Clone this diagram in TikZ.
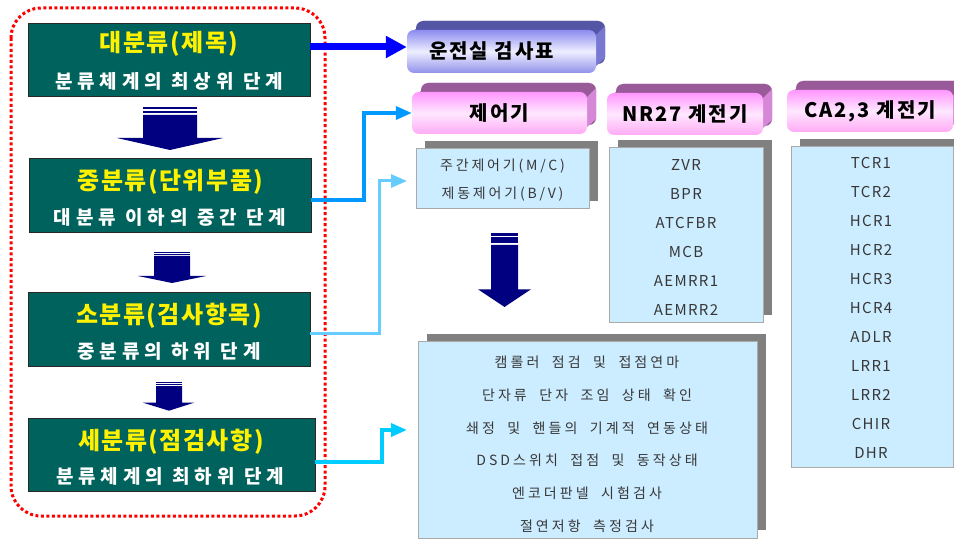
\documentclass[tikz,border=0pt]{standalone}
\usepackage{fontspec}
\setmainfont{Noto Sans CJK KR}
\newfontfamily\kt[LetterSpace=6]{Noto Sans CJK KR}
\newfontfamily\ks[LetterSpace=26]{Noto Sans CJK KR}
\newfontfamily\kh[LetterSpace=10]{Noto Sans CJK KR}
\newfontfamily\kl[LetterSpace=20]{Noto Sans CJK KR}
\newfontfamily\kn[LetterSpace=9]{Noto Sans CJK KR}
\newfontfamily\kb[LetterSpace=22,WordSpace=2]{Noto Sans CJK KR}
\usetikzlibrary{arrows.meta}
\definecolor{tealbox}{RGB}{0,98,92}
\definecolor{boxborder}{RGB}{40,40,40}
\definecolor{navyarr}{RGB}{0,0,128}
\definecolor{listfill}{RGB}{204,236,255}
\definecolor{listborder}{RGB}{170,170,170}
\definecolor{shadowgray}{RGB}{128,128,128}
\definecolor{itemtext}{RGB}{55,55,55}
\definecolor{conA}{RGB}{0,0,255}
\definecolor{conB}{RGB}{0,153,255}
\definecolor{conC}{RGB}{102,204,255}
\definecolor{conD}{RGB}{0,204,255}
\definecolor{pkdark}{RGB}{153,90,153}
\definecolor{pkside}{RGB}{215,135,215}
\definecolor{pktop}{RGB}{255,150,255}
\definecolor{pkmid}{RGB}{255,232,255}
\definecolor{pkbot}{RGB}{255,170,245}
\definecolor{bldark}{RGB}{85,85,165}
\definecolor{blside}{RGB}{120,120,210}
\definecolor{bltop}{RGB}{140,140,240}
\definecolor{blmid}{RGB}{238,238,255}
\definecolor{blbot}{RGB}{145,145,235}

% #1 name, #2 x1, #3 y1, #4 x2, #5 y2, #6 colour prefix, #7 text, #8 extra space after text
\newcommand{\hdrbox}[8]{%
  \fill[#6dark, rounded corners=7pt] (#2+9,#3-9) rectangle (#4+9,#5-9);
  \fill[#6dark] (#2+7,#3+1) -- (#2+16,#3-9) -- (#4+2,#3-9) -- (#4-7,#3+1) -- cycle;
  \fill[#6side] (#4-1,#3+6) -- (#4+9,#3-4) -- (#4+9,#5-15) -- (#4-1,#5-6) -- cycle;
  \node[hdrface, top color=#6top, bottom color=#6bot, middle color=#6mid,
        minimum width={#4-#2}, minimum height={#5-#3}] (#1) at ({(#2+#4)/2},{(#3+#5)/2}) {#7\hspace*{#8}};
}
% #1 name, #2 x1, #3 y1, #4 x2, #5 y2
\newcommand{\listbox}[5]{%
  \fill[shadowgray] (#2+9,#3-8) rectangle (#4+9,#5-8);
  \node[listface, minimum width={#4-#2}, minimum height={#5-#3}] (#1) at ({(#2+#4)/2},{(#3+#5)/2}) {};
}

\begin{document}
\begin{tikzpicture}[x=1pt,y=-1pt,
  catbox/.style={draw=boxborder, fill=tealbox, line width=1pt, inner sep=0pt},
  titletext/.style={text=yellow, inner sep=0pt, font={\kt\bfseries\fontsize{24}{28}\selectfont}},
  subtext/.style={text=white, inner sep=0pt, font={\ks\bfseries\fontsize{19}{23}\selectfont}},
  hdrface/.style={rounded corners=7pt, shading=axis, inner sep=0pt, text=black,
                  font={\kh\bfseries\fontsize{20}{24}\selectfont}},
  listface/.style={draw=listborder, fill=listfill, line width=1pt, inner sep=0pt},
  itemtext/.style={text=itemtext, inner sep=0pt, font={\kl\fontsize{14}{17}\selectfont}},
  latinitem/.style={text=itemtext, inner sep=0pt, font={\kn\fontsize{15}{18}\selectfont}},
  bigitem/.style={text=itemtext, inner sep=0pt, font={\kb\fontsize{14}{17}\selectfont}},
  redframe/.style={draw=red, line width=3pt, dash pattern=on 3pt off 2.5pt, rounded corners=30pt},
  connthick/.style={draw=conA, line width=7pt, -{Triangle[length=21pt,width=21pt]}},
  connthin/.style={line width=3.5pt, -{Triangle[length=16pt,width=13pt]}},
]
\useasboundingbox (0,0) rectangle (954,540);

% ---------- left category boxes ----------
\node[catbox, minimum width=282pt, minimum height=73pt] (b1) at (169,60) {};
\node[titletext] (t1) at (169,44) {대분류(제목)};
\node[subtext] (s1) at (169,81) {분류체계의 최상위 단계};

\node[catbox, minimum width=282pt, minimum height=74pt] (b2) at (170,196) {};
\node[titletext] (t2) at (170.5,182) {중분류(단위부품)};
\node[subtext] (s2) at (170,217.5) {대분류 이하의 중간 단계};

\node[catbox, minimum width=282pt, minimum height=73pt] (b3) at (169,329.5) {};
\node[titletext] (t3) at (169,316) {소분류(검사항목)};
\node[subtext] (s3) at (169,351.5) {중분류의 하위 단계};

\node[catbox, minimum width=287pt, minimum height=73pt] (b4) at (171.5,454.5) {};
\node[titletext] (t4) at (171,442) {세분류(점검사항)};
\node[subtext] (s4) at (170,476.5) {분류체계의 최하위 단계};

% ---------- navy down arrows ----------
\fill[navyarr] (143,107.3) rectangle (197,109.3);
\fill[navyarr] (143,110.7) rectangle (197,113.3);
\fill[navyarr] (143,115) -- (197,115) -- (197,138) -- (223,138) -- (170,150) -- (117,138) -- (143,138) -- cycle;

\fill[navyarr] (154,251.7) rectangle (190,252.7);
\fill[navyarr] (154,253.7) rectangle (190,255.3);
\fill[navyarr] (154,256) -- (190,256) -- (190,276) -- (206,276) -- (172,283) -- (138,276) -- (154,276) -- cycle;

\fill[navyarr] (156,381.7) rectangle (182,382.7);
\fill[navyarr] (156,383.7) rectangle (182,385.3);
\fill[navyarr] (156,386) -- (182,386) -- (182,402.7) -- (194,402.7) -- (169,410.7) -- (143,402.7) -- (156,402.7) -- cycle;

\fill[navyarr] (491,233.3) rectangle (518,236);
\fill[navyarr] (491,237.3) rectangle (518,243.3);
\fill[navyarr] (491,245) -- (518,245) -- (518,289.3) -- (531,289.3) -- (504.5,307) -- (478,289.3) -- (491,289.3) -- cycle;

% ---------- 3D headers ----------
\hdrbox{h0}{407}{30}{596}{73}{bl}{운전실 검사표}{20pt}
\hdrbox{h1}{412}{92}{587}{134}{pk}{제어기}{0pt}
\hdrbox{h2}{607}{93}{763}{135}{pk}{NR27 계전기}{0pt}
\hdrbox{h3}{787}{90}{953}{132}{pk}{CA2,3 계전기}{0pt}

% ---------- lists ----------
\listbox{l1}{416}{149}{589}{209}
\node[itemtext] (l1a) at (502.5,166) {주간제어기(M/C)};
\node[itemtext] (l1b) at (502.5,194) {제동제어기(B/V)};

\listbox{l2}{609}{148}{763}{323}
\foreach \t [count=\i] in {ZVR,BPR,ATCFBR,MCB,AEMRR1,AEMRR2}
  \node[latinitem] (l2\i) at (686,{136+29*\i}) {\t};

\listbox{l3}{791}{147}{953}{467}
\foreach \t [count=\i] in {TCR1,TCR2,HCR1,HCR2,HCR3,HCR4,ADLR,LRR1,LRR2,CHIR,DHR}
  \node[latinitem] (l3\i) at (871,{134+29*\i}) {\t};

\listbox{l4}{418}{342}{757}{538}
\node[bigitem] (l4a) at (587,362) {캠롤러 점검 및 접점연마};
\node[bigitem] (l4b) at (587,395) {단자류 단자 조임 상태 확인};
\node[bigitem] (l4c) at (587,428) {쇄정 및 핸들의 기계적 연동상태};
\node[bigitem] (l4d) at (587,460) {DSD스위치 접점 및 동작상태};
\node[bigitem] (l4e) at (587,493) {엔코더판넬 시험검사};
\node[bigitem] (l4f) at (587,526) {절연저항 측정검사};

% ---------- red dotted frame ----------
\draw[redframe] (11,8) rectangle (325,516);

% ---------- connectors ----------
\coordinate (c1s) at (310,47);
\draw[connthick] (c1s) -- (c1s -| h0.west);

\coordinate (c2s) at (311,200);
\coordinate (c2m) at (364,113);
\draw[connthin, draw=conB, color=conB] (c2s) -| (c2m) -- (c2m -| h1.west);

\coordinate (c3s) at (310,334);
\coordinate (c3m) at (379,181);
\coordinate (c3e) at (407,181);
\draw[connthin, draw=conC, color=conC, line width=3pt] (c3s) -| (c3m) -- (c3e);

\coordinate (c4s) at (315,462);
\coordinate (c4m) at (382,430);
\coordinate (c4e) at (407,430);
\draw[connthin, draw=conD, color=conD] (c4s) -| (c4m) -- (c4e);
\end{tikzpicture}
\end{document}
